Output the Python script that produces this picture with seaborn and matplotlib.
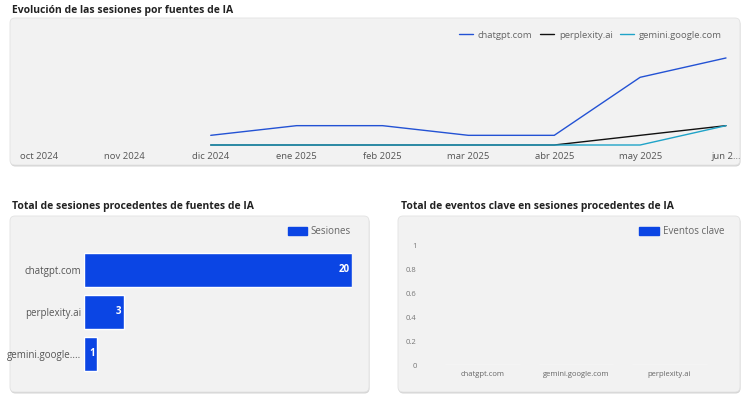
import numpy as np
import pandas as pd
import seaborn as sns
import matplotlib.pyplot as plt
from matplotlib.patches import FancyBboxPatch, Patch
from matplotlib.lines import Line2D

# datos
meses = ["oct 2024", "nov 2024", "dic 2024", "ene 2025", "feb 2025",
         "mar 2025", "abr 2025", "may 2025", "jun 2..."]
chatgpt = [np.nan, np.nan, 1, 2, 2, 1, 1, 7, 9]
perplexity = [np.nan, np.nan, 0, 0, 0, 0, 0, 1, 2]
gemini = [np.nan, np.nan, 0, 0, 0, 0, 0, 0, 2]

fuentes = ["chatgpt.com", "perplexity.ai", "gemini.google.com"]
fuentes_tick = ["chatgpt.com", "perplexity.ai", "gemini.google...."]
sesiones = [20, 3, 1]

fuentes_ev = ["chatgpt.com", "gemini.google.com", "perplexity.ai"]
eventos = [0, 0, 0]

c_chat = "#2352d4"
c_perp = "#111111"
c_gem = "#1fa3c8"
c_bar = "#0b45e4"
panel_bg = "#f2f2f2"

sns.set_theme(style="white")
plt.rcParams["font.family"] = ["Open Sans", "DejaVu Sans"]

W, H = 750, 403
fig = plt.figure(figsize=(W / 100, H / 100), dpi=100)
fig.patch.set_facecolor("white")


def ax_px(x0, y0, x1, y1):
    # caja en pixeles (origen arriba-izquierda) -> axes
    return fig.add_axes([x0 / W, 1 - y1 / H, (x1 - x0) / W, (y1 - y0) / H])


def panel(x0, y0, x1, y1):
    tr = fig.dpi_scale_trans
    sh = FancyBboxPatch(((x0 + 0.5) / 100, (H - y1 - 1.5) / 100), (x1 - x0) / 100, (y1 - y0) / 100,
                        boxstyle="round,pad=0,rounding_size=0.05", transform=tr,
                        facecolor="#d4d4d4", edgecolor="none", zorder=-2)
    p = FancyBboxPatch((x0 / 100, (H - y1) / 100), (x1 - x0) / 100, (y1 - y0) / 100,
                       boxstyle="round,pad=0,rounding_size=0.05", transform=tr,
                       facecolor=panel_bg, edgecolor="#e2e2e2", lw=0.6, zorder=-1)
    fig.patches.extend([sh, p])


panel(10, 18, 740, 165)
panel(10, 216, 369, 392)
panel(398, 216, 740, 392)

fig.text(12 / W, 1 - 10 / H, "Evolución de las sesiones por fuentes de IA", fontsize=7.5,
         fontweight="bold", color="#222222", va="center", ha="left")
fig.text(12 / W, 1 - 207 / H, "Total de sesiones procedentes de fuentes de IA", fontsize=7.5,
         fontweight="bold", color="#222222", va="center", ha="left")
fig.text(401 / W, 1 - 207 / H, "Total de eventos clave en sesiones procedentes de IA", fontsize=7.5,
         fontweight="bold", color="#222222", va="center", ha="left")

# --- serie temporal ---
ax1 = ax_px(20, 36, 740, 145)
df = pd.DataFrame({"x": np.arange(len(meses)), "chatgpt.com": chatgpt,
                   "perplexity.ai": perplexity, "gemini.google.com": gemini})
dfl = df.melt(id_vars="x", var_name="fuente", value_name="sesiones").dropna()
sns.lineplot(data=dfl, x="x", y="sesiones", hue="fuente", hue_order=fuentes,
             palette=[c_chat, c_perp, c_gem], lw=1.0, ax=ax1, legend=False)
for ln in ax1.lines:
    ln.set_clip_on(False)
ax1.set_xlim(-19 / 85.9, 8 + 14 / 85.9)
ax1.set_ylim(0, 109 / 9.67)
ax1.set_facecolor("none")
for s in ax1.spines.values():
    s.set_visible(False)
ax1.set_xticks(range(len(meses)))
ax1.set_xticklabels(meses, fontsize=6.8, color="#555555")
ax1.tick_params(axis="x", length=0, pad=5)
ax1.set_yticks([])
ax1.set_xlabel("")
ax1.set_ylabel("")
handles = [Line2D([], [], color=c, lw=1.0) for c in [c_chat, c_perp, c_gem]]
ax1.legend(handles, fuentes, loc="upper right", bbox_to_anchor=((726 - 20) / 720, 1 + 9 / 109),
           ncol=3, frameon=False, fontsize=6.8, handlelength=1.5, handletextpad=0.5,
           columnspacing=0.8, labelcolor="#666666", borderaxespad=0)

# --- barras horizontales ---
ax2 = ax_px(84, 249, 352, 375)
dfb = pd.DataFrame({"fuente": fuentes, "sesiones": sesiones})
sns.barplot(data=dfb, y="fuente", x="sesiones", orient="h", color=c_bar, width=0.79,
            saturation=1, ax=ax2)
ax2.set_xlim(0, 20)
ax2.set_ylim(2.5, -0.5)
ax2.set_facecolor("none")
for s in ax2.spines.values():
    s.set_visible(False)
ax2.set_xticks([])
ax2.set_yticks(range(3))
ax2.set_yticklabels(fuentes_tick, fontsize=7, color="#555555")
ax2.tick_params(axis="y", length=0, pad=2)
ax2.set_xlabel("")
ax2.set_ylabel("")
for i, v in enumerate(sesiones):
    ax2.text(v - 0.2, i, str(v), color="white", fontsize=7, fontweight="bold",
             ha="right", va="center")
ax2.legend([Patch(color=c_bar)], ["Sesiones"], loc="center right",
           bbox_to_anchor=(1.0 + 3 / 268, 1 + 17 / 126), frameon=False, fontsize=7,
           handlelength=2.0, handleheight=0.9, handletextpad=0.4, labelcolor="#666666",
           borderaxespad=0)

# --- eventos clave ---
ax3 = ax_px(436, 246, 716, 365)
dfe = pd.DataFrame({"fuente": fuentes_ev, "eventos": eventos})
sns.barplot(data=dfe, x="fuente", y="eventos", color=c_bar, saturation=1, ax=ax3)
ax3.set_xlim(-0.5, 2.5)
ax3.set_ylim(0, 1)
ax3.set_facecolor("none")
for s in ax3.spines.values():
    s.set_visible(False)
ax3.set_yticks([0, 0.2, 0.4, 0.6, 0.8, 1])
ax3.set_yticklabels(["0", "0.2", "0.4", "0.6", "0.8", "1"], fontsize=5.5, color="#777777")
ax3.set_xticks(range(3))
ax3.set_xticklabels(fuentes_ev, fontsize=5.5, color="#666666")
ax3.tick_params(axis="y", length=0, pad=14)
ax3.tick_params(axis="x", length=0, pad=4)
ax3.set_xlabel("")
ax3.set_ylabel("")
ax3.legend([Patch(color=c_bar)], ["Eventos clave"], loc="center right",
           bbox_to_anchor=((728 - 436) / 280, 1 + 14 / 119), frameon=False, fontsize=7,
           handlelength=2.0, handleheight=0.9, handletextpad=0.4, labelcolor="#666666",
           borderaxespad=0)

fig.savefig("out.png", dpi=100)
